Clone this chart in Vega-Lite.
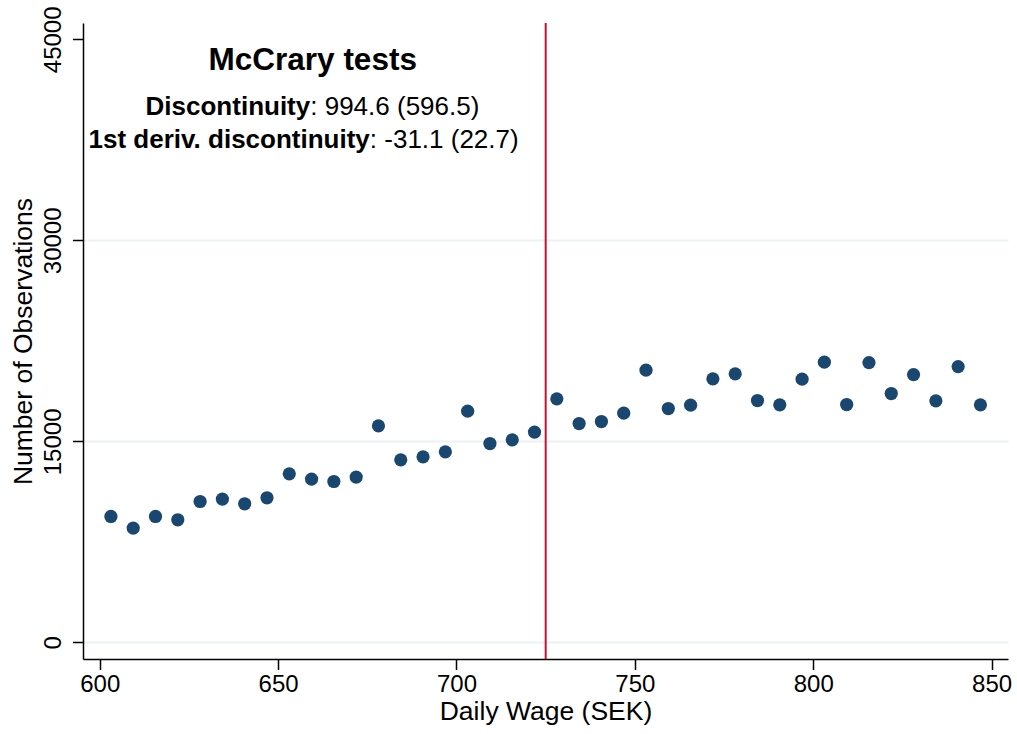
{
  "$schema": "https://vega.github.io/schema/vega-lite/v6.json",
  "width": 925,
  "height": 636,
  "autosize": {"type": "none"},
  "padding": {"left": 83, "top": 23, "right": 9, "bottom": 75},
  "background": "white",
  "config": {
    "view": {"stroke": null},
    "font": "Liberation Sans",
    "axis": {
      "labelFont": "Liberation Sans",
      "titleFont": "Liberation Sans",
      "labelColor": "black",
      "titleColor": "black",
      "domainColor": "black",
      "tickColor": "black",
      "domainWidth": 1.5,
      "tickWidth": 1.5,
      "tickSize": 10.5,
      "titleFontWeight": "normal",
      "titleFontSize": 26.5,
      "labelFontSize": 24
    }
  },
  "datasets": {
    "bins": [
      {"wage": 603.125, "n": 9396},
      {"wage": 609.375, "n": 8531},
      {"wage": 615.625, "n": 9396},
      {"wage": 621.875, "n": 9150},
      {"wage": 628.125, "n": 10514},
      {"wage": 634.375, "n": 10693},
      {"wage": 640.625, "n": 10343},
      {"wage": 646.875, "n": 10790},
      {"wage": 653.125, "n": 12580},
      {"wage": 659.375, "n": 12185},
      {"wage": 665.625, "n": 12006},
      {"wage": 671.875, "n": 12334},
      {"wage": 678.125, "n": 16159},
      {"wage": 684.375, "n": 13624},
      {"wage": 690.625, "n": 13848},
      {"wage": 696.875, "n": 14221},
      {"wage": 703.125, "n": 17255},
      {"wage": 709.375, "n": 14839},
      {"wage": 715.625, "n": 15115},
      {"wage": 721.875, "n": 15690},
      {"wage": 728.125, "n": 18173},
      {"wage": 734.375, "n": 16331},
      {"wage": 740.625, "n": 16480},
      {"wage": 746.875, "n": 17106},
      {"wage": 753.125, "n": 20313},
      {"wage": 759.375, "n": 17449},
      {"wage": 765.625, "n": 17703},
      {"wage": 771.875, "n": 19664},
      {"wage": 778.125, "n": 20037},
      {"wage": 784.375, "n": 18046},
      {"wage": 790.625, "n": 17725},
      {"wage": 796.875, "n": 19642},
      {"wage": 803.125, "n": 20909},
      {"wage": 809.375, "n": 17748},
      {"wage": 815.625, "n": 20880},
      {"wage": 821.875, "n": 18568},
      {"wage": 828.125, "n": 19985},
      {"wage": 834.375, "n": 18024},
      {"wage": 840.625, "n": 20581},
      {"wage": 846.875, "n": 17725}
    ],
    "one": [{"k": 1}]
  },
  "layer": [
    {
      "data": {"name": "bins"},
      "mark": {"type": "point", "filled": true, "shape": "circle", "size": 175, "color": "#1a476f", "opacity": 1},
      "encoding": {
        "x": {
          "field": "wage",
          "type": "quantitative",
          "scale": {"domain": [595.3, 854.6], "nice": false, "zero": false},
          "axis": {
            "title": "Daily Wage (SEK)",
            "values": [600, 650, 700, 750, 800, 850],
            "format": "d",
            "grid": false,
            "labelPadding": 3,
            "titlePadding": 2,
            "labelFlush": false
          }
        },
        "y": {
          "field": "n",
          "type": "quantitative",
          "scale": {"domain": [-1238, 46216], "nice": false, "zero": false},
          "axis": {
            "title": "Number of Observations",
            "values": [0, 15000, 30000, 45000],
            "format": "d",
            "grid": true,
            "gridColor": "#eaf2f3",
            "gridWidth": 2,
            "gridOpacity": {"condition": {"test": "datum.value >= 45000", "value": 0}, "value": 1},
            "labelAngle": 270,
            "labelAlign": "center",
            "labelBaseline": "alphabetic",
            "labelPadding": 12,
            "titlePadding": 4,
            "labelFlush": false
          }
        }
      }
    },
    {
      "data": {"name": "one"},
      "mark": {"type": "rule", "color": "#c8102e", "strokeWidth": 2},
      "encoding": {"x": {"datum": 725, "type": "quantitative"}}
    },
    {
      "data": {"name": "one"},
      "mark": {"type": "text", "fontSize": 31.5, "fontWeight": "bold", "align": "center", "baseline": "alphabetic", "color": "black", "text": "McCrary tests"},
      "encoding": {"x": {"datum": 659.7, "type": "quantitative"}, "y": {"datum": 42706, "type": "quantitative"}}
    },
    {
      "data": {"name": "one"},
      "mark": {"type": "text", "fontSize": 26, "fontWeight": "bold", "align": "right", "baseline": "alphabetic", "color": "black", "text": "Discontinuity"},
      "encoding": {"x": {"datum": 659.0, "type": "quantitative"}, "y": {"datum": 39351, "type": "quantitative"}}
    },
    {
      "data": {"name": "one"},
      "mark": {"type": "text", "fontSize": 26, "fontWeight": "normal", "align": "left", "baseline": "alphabetic", "color": "black", "text": ": 994.6 (596.5)"},
      "encoding": {"x": {"datum": 659.0, "type": "quantitative"}, "y": {"datum": 39351, "type": "quantitative"}}
    },
    {
      "data": {"name": "one"},
      "mark": {"type": "text", "fontSize": 26, "fontWeight": "bold", "align": "right", "baseline": "alphabetic", "color": "black", "text": "1st deriv. discontinuity"},
      "encoding": {"x": {"datum": 675.7, "type": "quantitative"}, "y": {"datum": 36890, "type": "quantitative"}}
    },
    {
      "data": {"name": "one"},
      "mark": {"type": "text", "fontSize": 26, "fontWeight": "normal", "align": "left", "baseline": "alphabetic", "color": "black", "text": ": -31.1 (22.7)"},
      "encoding": {"x": {"datum": 675.7, "type": "quantitative"}, "y": {"datum": 36890, "type": "quantitative"}}
    }
  ]
}
